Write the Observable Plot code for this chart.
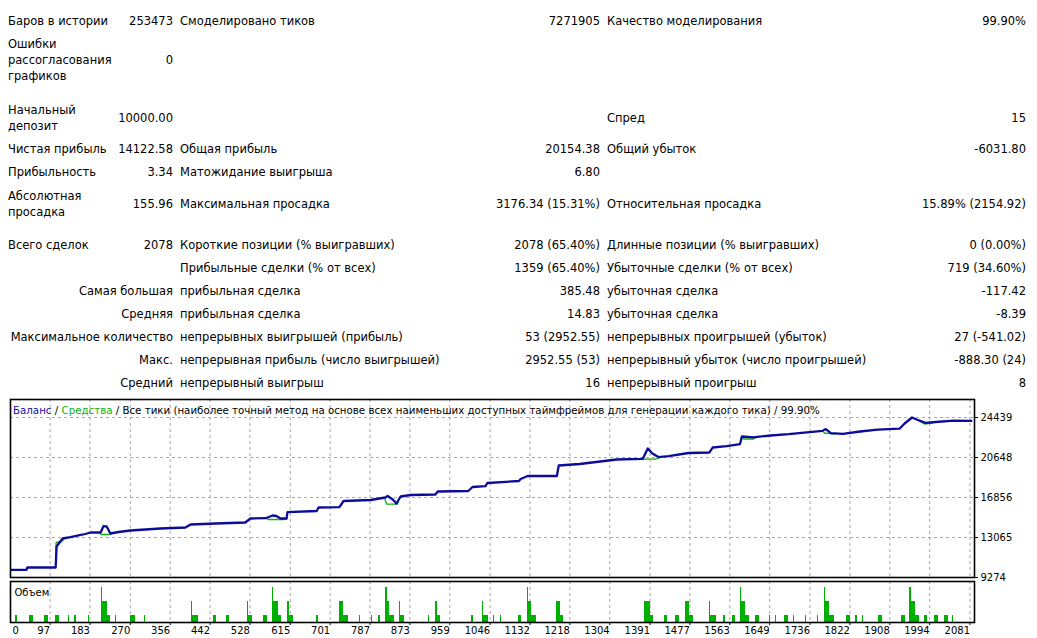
<!DOCTYPE html>
<html><head><meta charset="utf-8">
<script src="https://cdn.jsdelivr.net/npm/d3@7"></script>
<script src="https://cdn.jsdelivr.net/npm/@observablehq/plot@0.6"></script>
<style>
html,body{margin:0;padding:0;background:#fff;}
body{width:1037px;height:638px;position:relative;overflow:hidden;font-family:"DejaVu Sans",sans-serif;font-size:11.5px;color:#000;}
.c{position:absolute;line-height:16px;white-space:pre;}
.l{left:8px;}
.v1{right:864px;text-align:right;}
.l2{left:180px;}
.v2{right:437px;text-align:right;}
.l3{left:607px;}
.v3{right:11px;text-align:right;}
#title{position:absolute;left:13px;top:403px;font-size:10.25px;white-space:nowrap;line-height:14px;}
</style>
</head><body>
<div id="report"></div>
<div id="main" style="position:absolute;left:0;top:398px;"></div>
<div id="vol" style="position:absolute;left:0;top:580px;"></div>
<div id="title"><span style="color:#1010a0">Баланс</span> / <span style="color:#10b010">Средства</span> / Все тики (наиболее точный метод на основе всех наименьших доступных таймфреймов для генерации каждого тика) / 99.90%</div>
<script>
// ---------- report table ----------
const reportLabel1 = ["Баров в истории","Ошибки\nрассогласования\nграфиков","Начальный\nдепозит","Чистая прибыль","Прибыльность","Абсолютная\nпросадка","Всего сделок","","Самая большая","Средняя","Максимальное количество","Макс.","Средний"];
const reportValue1 = ["253473","0","10000.00","14122.58","3.34","155.96","2078","","","","","",""];
const reportLabel2 = ["Смоделировано тиков","","","Общая прибыль","Матожидание выигрыша","Максимальная просадка","Короткие позиции (% выигравших)","Прибыльные сделки (% от всех)","прибыльная сделка","прибыльная сделка","непрерывных выигрышей (прибыль)","непрерывная прибыль (число выигрышей)","непрерывный выигрыш"];
const reportValue2 = ["7271905","","","20154.38","6.80","3176.34 (15.31%)","2078 (65.40%)","1359 (65.40%)","385.48","14.83","53 (2952.55)","2952.55 (53)","16"];
const reportLabel3 = ["Качество моделирования","","Спред","Общий убыток","","Относительная просадка","Длинные позиции (% выигравших)","Убыточные сделки (% от всех)","убыточная сделка","убыточная сделка","непрерывных проигрышей (убыток)","непрерывный убыток (число проигрышей)","непрерывный проигрыш"];
const reportValue3 = ["99.90%","","15","-6031.80","","15.89% (2154.92)","0 (0.00%)","719 (34.60%)","-117.42","-8.39","27 (-541.02)","-888.30 (24)","8"];

// ---------- chart data ----------
const xTickLabels = [97,183,270,356,442,528,615,701,787,873,959,1046,1132,1218,1304,1391,1477,1563,1649,1736,1822,1908,1994,2081];
const yTickLabels = [9274,13065,16856,20648,24439];
const xMin = 11.6, xMax = 2090.7;
const yMin = 9274, yMax = 26145;

const balanceTrade = [12,46,48,109,111,124,141,158,173,184,206,212,219,227,245,270,335,389,400,454,518,529,562,577,585,594,607,609,672,676,721,730,788,820,825,836,844,853,874,928,933,999,1008,1036,1040,1108,1112,1127,1190,1194,1239,1319,1375,1386,1396,1409,1431,1474,1519,1526,1556,1585,1589,1614,1651,1690,1763,1770,1781,1807,1844,1882,1929,1940,1956,1966,1985,2007,2046,2084];
const balanceValue = [10000,10000,10222,10222,12212,12970,13094,13255,13397,13539,13539,14136,14108,13444,13586,13729,13918,14013,14297,14392,14487,14866,14894,15150,15103,14866,14866,15463,15577,15909,15937,16525,16620,16856,17000,16667,16288,16951,17093,17141,17425,17473,17851,17927,18231,18420,18608,18894,18894,19889,20032,20458,20515,21501,21027,20685,20780,21074,21122,21595,21719,21918,22638,22562,22733,22856,23178,23339,22951,22884,23112,23282,23377,23870,24439,24249,23927,24012,24136,24123];

const equitySegment = [1,1,1,1, 2,2,2,2, 3,3,3,3, 4,4,4,4, 5,5,5,5, 6,6,6,6, 7,7,7, 8,8,8];
const equityTrade = [109,110,122,128, 201,208,225,230, 562,568,603,609, 818,823,846,851, 1373,1379,1403,1414, 1589,1593,1614,1619, 1763,1767,1789, 1966,1983,2000];
const equityValue = [10222,12591,12686,12970, 13539,13350,13350,13444, 14894,14771,14771,14866, 16856,16221,16221,16856, 20515,20487,20487,20685, 22638,22401,22401,22562, 23178,22970,22856, 24249,23823,23918];

const volStart = [22,53,85,109,136,150,180,207,210,221,238,270,301,403,405,449,477,522,524,557,576,578,590,608,613,672,721,730,764,790,805,821,824,830,851,853,913,929,932,1005,1029,1031,1053,1068,1108,1126,1128,1136,1158,1190,1198,1378,1380,1391,1423,1446,1468,1475,1520,1522,1549,1568,1586,1588,1597,1618,1649,1662,1681,1700,1727,1752,1768,1770,1778,1814,1833,1849,1883,1934,1951,1954,1963,1982,2005,2027,2044];
const volEnd   = [26,61,94,117,138,154,182,210,221,227,240,281,303,405,416,456,484,524,533,566,578,590,596,613,622,676,730,741,767,792,810,824,830,840,853,861,915,932,939,1011,1031,1043,1056,1071,1114,1128,1136,1146,1160,1198,1204,1380,1391,1399,1428,1454,1475,1484,1522,1534,1554,1576,1588,1597,1606,1626,1651,1664,1689,1703,1729,1755,1770,1778,1788,1823,1839,1851,1893,1942,1954,1963,1972,1990,2013,2034,2046];
const volLevel = [1,1,1,1,1,1,1,5,3,1,1,1,1,3,1,1,1,3,1,1,5,3,1,3,1,1,3,1,1,1,1,5,3,1,3,1,1,3,1,1,3,1,1,1,1,5,3,1,1,3,1,5,3,1,1,1,3,1,3,1,1,1,5,3,1,1,1,1,1,1,1,1,5,3,1,1,1,1,1,1,5,3,1,1,1,1,1];
const volMax = 5.85;

// ---------- build report ----------
const rowCenter = [21,60,118,149,172,204,245,268,291,314,337,360,383];
const rightAlignedLabel = [false,false,false,false,false,false,false,false,true,true,true,true,true];
const rep = document.getElementById("report");
function cell(text, cls, cy){
  if(!text) return;
  const d = document.createElement("div");
  d.className = "c " + cls;
  d.textContent = text;
  const n = text.split("\n").length;
  d.style.top = (cy - n*8) + "px";
  rep.appendChild(d);
}
rowCenter.forEach((cy,i)=>{
  cell(reportLabel1[i], rightAlignedLabel[i] ? "v1" : "l", cy);
  cell(reportValue1[i], "v1", cy);
  cell(reportLabel2[i], "l2", cy);
  cell(reportValue2[i], "v2", cy);
  cell(reportLabel3[i], "l3", cy);
  cell(reportValue3[i], "v3", cy);
});

// ---------- charts ----------
const balance = balanceTrade.map((t,i)=>({t, v: balanceValue[i]}));
const equity = equityTrade.map((t,i)=>({t, v: equityValue[i], s: equitySegment[i]}));
const vols = volStart.map((s,i)=>({s, e: volEnd[i], l: volLevel[i]}));
const gridStyle = {stroke:"#a8a8a8", strokeOpacity:1, strokeDasharray:"3,3", strokeWidth:1};
const fontStyle = {fontFamily:"DejaVu Sans, sans-serif", fontSize:"10px", color:"#000", background:"transparent", overflow:"visible"};

const main = Plot.plot({
  width:1037, height:180, marginTop:1, marginBottom:1, marginLeft:10, marginRight:63,
  style: fontStyle,
  x:{domain:[xMin,xMax], axis:null},
  y:{domain:[yMin,yMax], axis:null},
  marks:[
    Plot.gridX(xTickLabels, gridStyle),
    Plot.gridY(yTickLabels, gridStyle),
    Plot.axisY(yTickLabels, {anchor:"right", label:null, tickSize:3, tickPadding:3, tickFormat:d=>String(d), textAnchor:"start", stroke:"#000"}),
    Plot.line(equity, {x:"t", y:"v", z:"s", stroke:"#10b010", strokeWidth:1.3, clip:true}),
    Plot.line(balance, {x:"t", y:"v", stroke:"#0c0c9a", strokeWidth:2.3, clip:true}),
    Plot.frame({stroke:"#000", strokeWidth:1.6})
  ]
});
document.getElementById("main").appendChild(main);

const vol = Plot.plot({
  width:1037, height:58, marginTop:1, marginBottom:16, marginLeft:10, marginRight:63,
  style: fontStyle,
  x:{domain:[xMin,xMax], axis:null},
  y:{domain:[0,volMax], axis:null},
  marks:[
    Plot.gridX(xTickLabels, gridStyle),
    Plot.rectY(vols, {x1:"s", x2:"e", y:"l", fill:"#00b000", inset:0, shapeRendering:"crispEdges"}),
    Plot.axisX(xTickLabels, {anchor:"bottom", label:null, tickSize:3, tickPadding:1, textAnchor:"end", dx:0, tickFormat:d=>String(d)}),
    Plot.text(["0"], {x:()=>xMin, frameAnchor:"bottom", lineAnchor:"top", dy:4, dx:2, textAnchor:"start"}),
    Plot.text(["Объем"], {frameAnchor:"top-left", textAnchor:"start", lineAnchor:"middle", dx:4, dy:11}),
    Plot.frame({stroke:"#000", strokeWidth:1.6})
  ]
});
document.getElementById("vol").appendChild(vol);
</script>
</body></html>
